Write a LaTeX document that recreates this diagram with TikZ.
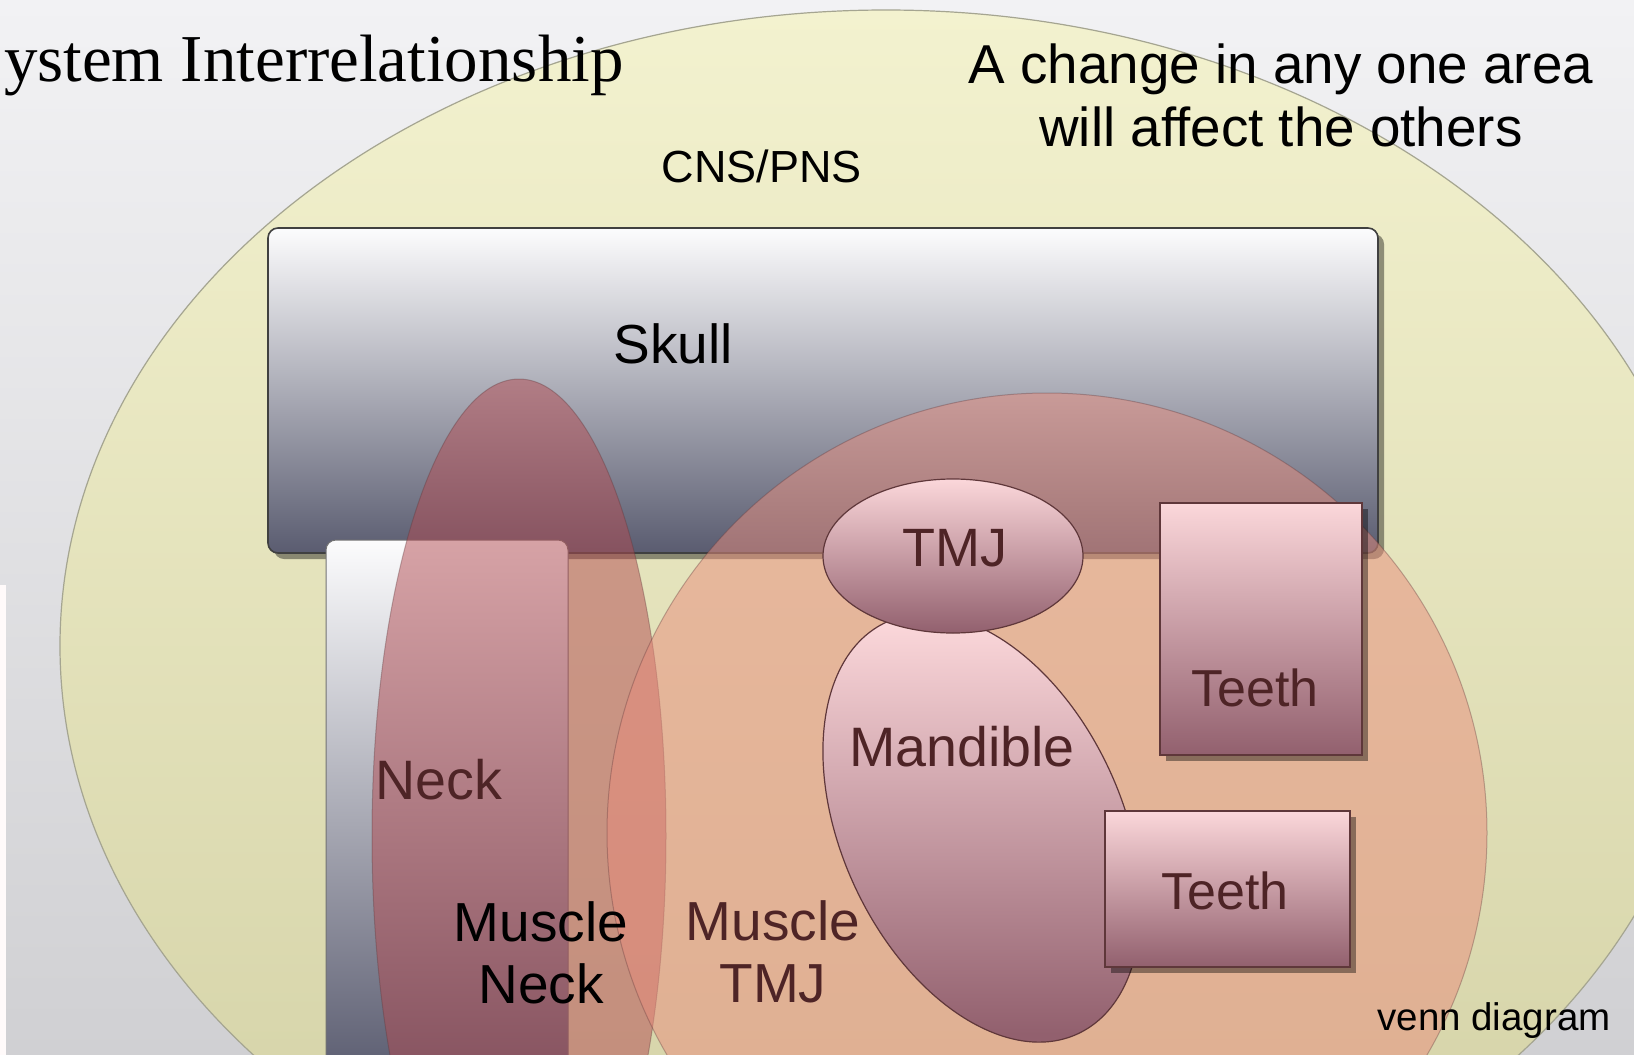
\documentclass[tikz,border=0pt]{standalone}
\usepackage{fontspec}
\setmainfont{Liberation Sans}
\newfontfamily\serifx{Liberation Serif}
\usetikzlibrary{shadows}
\definecolor{bgtop}{RGB}{242,242,244}
\definecolor{bgbot}{RGB}{208,208,211}
\definecolor{yeltop}{RGB}{243,242,207}
\definecolor{yelbot}{RGB}{210,208,164}
\definecolor{yelline}{RGB}{165,165,145}
\definecolor{skulltop}{RGB}{252,252,253}
\definecolor{skullbot}{RGB}{90,92,112}
\definecolor{mauvetop}{RGB}{251,215,218}
\definecolor{mauvebot}{RGB}{146,96,110}
\definecolor{edgebrown}{RGB}{95,55,58}
\definecolor{neckfill}{RGB}{178,74,80}
\definecolor{musclefill}{RGB}{232,140,124}
\definecolor{labelbrown}{RGB}{78,36,38}
\begin{document}
\begin{tikzpicture}[x=0.5pt,y=-0.5pt,
  lbl/.style={inner sep=0pt, anchor=base, align=center},
  big/.style={font=\fontsize{27.5}{31.5}\selectfont},
  brownlbl/.style={text=labelbrown},
  pinkbox/.style={top color=mauvetop, bottom color=mauvebot, draw=edgebrown, line width=0.6pt},
  greybox/.style={top color=skulltop, bottom color=skullbot, draw=black!75, line width=0.8pt, rounded corners=5pt},
  boxshadow/.style={drop shadow={shadow xshift=3pt, shadow yshift=-3pt, opacity=0.4, fill=black}},
  seethru/.style={fill opacity=0.5, draw opacity=0.35, draw=edgebrown, line width=0.5pt}]
\useasboundingbox (0,0) rectangle (1634,1055);
% background
\shade[top color=bgtop, bottom color=bgbot] (0,0) rectangle (1634,1055);
\fill[white!92!pink] (0,585) rectangle (6,1055);
% CNS/PNS field
\shade[top color=yeltop, bottom color=yelbot, draw=yelline, line width=0.6pt]
  (886,646) ellipse [x radius=826, y radius=636];
% Skull
\shade[greybox, boxshadow] (268,228) rectangle (1378,553);
% neck column
\shade[greybox, line width=0.5pt, draw=black!55] (326,540) rectangle (568,1080);
% Neck ellipse
\fill[neckfill, seethru] (519,836) ellipse [x radius=147, y radius=457];
% Muscle TMJ circle
\fill[musclefill, seethru] (1047,833) circle [radius=440];
% Mandible
\shade[pinkbox, rotate around={25:(982,828)}] (982,828) ellipse [x radius=140, y radius=227];
% TMJ
\shade[pinkbox] (953,556) ellipse [x radius=130, y radius=77];
% Teeth
\shade[pinkbox, boxshadow] (1160,503) rectangle (1362,755);
\shade[pinkbox, boxshadow] (1105,811) rectangle (1350,967);
% labels
\node[lbl, anchor=base east, font=\serifx\fontsize{33.5}{38}\selectfont] (title) at (624,81) {System Interrelationship};
\node[lbl, font=\fontsize{27.4}{31.5}\selectfont] (note) at (1281,146) {A change in any one area\\will affect the others};
\node[lbl, font=\fontsize{22.5}{26}\selectfont] (cns) at (762,182) {CNS/PNS};
\node[lbl, big] (skull) at (673,363) {Skull};
\node[lbl, brownlbl, font=\fontsize{27}{31}\selectfont] (tmj) at (955,566) {TMJ};
\node[lbl, brownlbl, font=\fontsize{27.8}{31}\selectfont] (mandible) at (962,766) {Mandible};
\node[lbl, brownlbl, font=\fontsize{26}{30}\selectfont] (teetha) at (1255,706) {Teeth};
\node[lbl, brownlbl, font=\fontsize{26}{30}\selectfont] (teethb) at (1225,909) {Teeth};
\node[lbl, brownlbl, font=\fontsize{27.8}{31}\selectfont] (neck) at (439,799) {Neck};
\node[lbl, font=\fontsize{27.5}{31}\selectfont] (muscleneck) at (541,1003) {Muscle\\Neck};
\node[lbl, brownlbl, font=\fontsize{27.5}{31}\selectfont] (muscletmj) at (773,1002) {Muscle\\TMJ};
\node[lbl, font=\fontsize{19.25}{22}\selectfont] (venn) at (1494,1030) {venn diagram};
\end{tikzpicture}
\end{document}
